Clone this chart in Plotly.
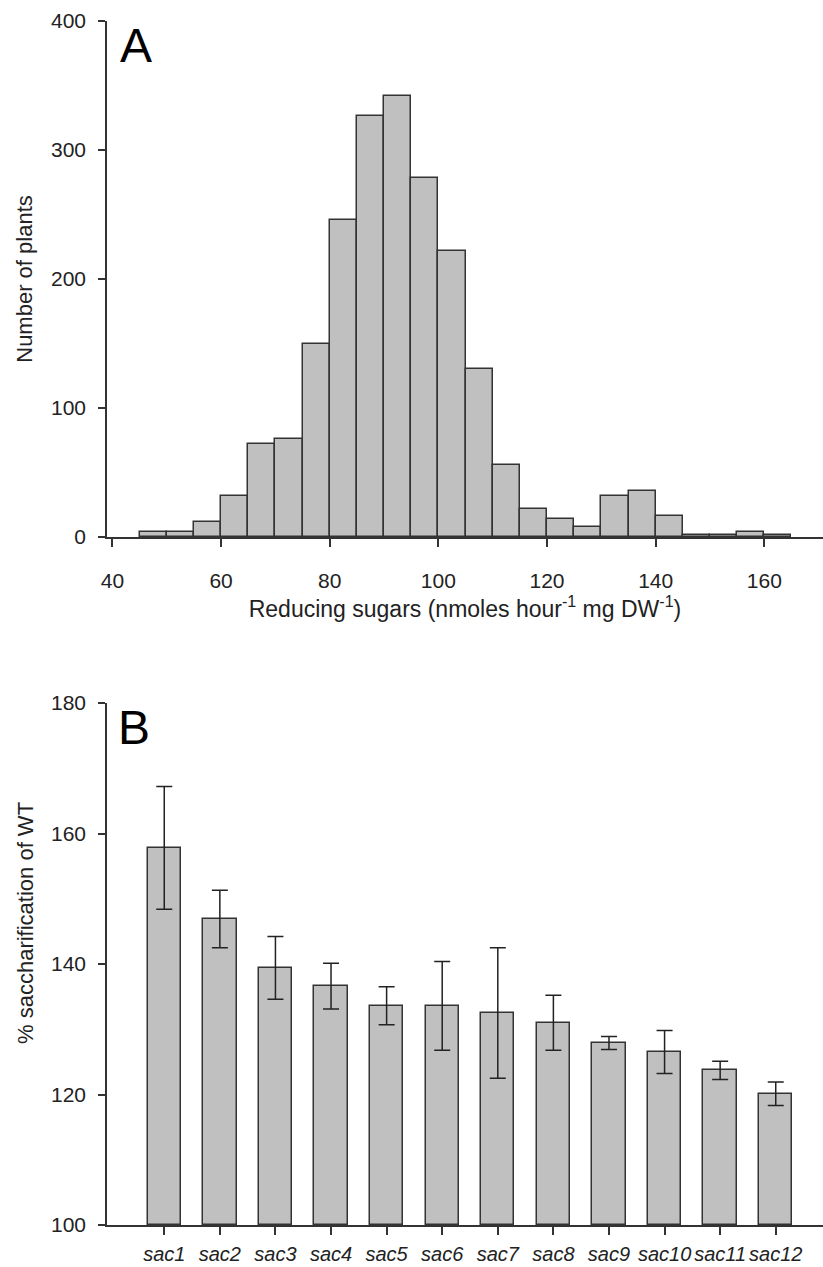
import plotly.graph_objects as go

# ---- Panel A data: histogram of reducing sugars ----
bin_starts = [45, 50, 55, 60, 65, 70, 75, 80, 85, 90, 95, 100, 105, 110,
              115, 120, 125, 130, 135, 140, 145, 150, 155, 160]
bin_width = 5
counts = [4, 4, 12, 32, 72, 76, 150, 246, 326, 342, 278, 222, 130, 56,
          22, 14, 8, 32, 36, 16, 1.5, 1.5, 4, 1.5]
a_xticks = [40, 60, 80, 100, 120, 140, 160]
a_yticks = [0, 100, 200, 300, 400]

# ---- Panel B data: % saccharification of WT ----
lines = ["sac1", "sac2", "sac3", "sac4", "sac5", "sac6",
         "sac7", "sac8", "sac9", "sac10", "sac11", "sac12"]
sacch = [157.8, 146.9, 139.4, 136.6, 133.6, 133.6,
         132.5, 131.0, 127.9, 126.5, 123.7, 120.1]
sacch_err = [9.4, 4.4, 4.8, 3.5, 2.9, 6.8,
             10.0, 4.2, 1.0, 3.3, 1.4, 1.8]
b_yticks = [100, 120, 140, 160, 180]

FONT = "Liberation Sans, Arial, sans-serif"
TXT = "#222222"
LINE = "#333333"
FILL = "#c0c0c0"

W, H = 823, 1267
ML, MR, MT, MB = 107, 0, 21, 42
PH = H - MT - MB


def py2paper(py):
    return (H - MB - py) / PH


def px2paper(px):
    return (px - ML) / (W - ML - MR)


fig = go.Figure()

centers = [s + bin_width / 2 for s in bin_starts]
fig.add_trace(go.Bar(
    x=centers, y=counts, width=bin_width,
    marker=dict(color=FILL, line=dict(color=LINE, width=1.5)),
    xaxis="x", yaxis="y", showlegend=False,
))

fig.add_trace(go.Bar(
    x=lines, y=[v - 100 for v in sacch], base=100, width=0.6,
    marker=dict(color=FILL, line=dict(color=LINE, width=1.5)),
    error_y=dict(type="data", array=sacch_err, visible=True,
                 color="#222222", thickness=1.5, width=8),
    xaxis="x2", yaxis="y2", showlegend=False,
))

axis_common = dict(
    showgrid=False, zeroline=False, showline=True, linecolor=LINE,
    linewidth=1.5, ticks="outside", tickcolor=LINE, tickwidth=1.5,
    automargin=False,
    tickfont=dict(family=FONT, size=21, color=TXT),
)

fig.update_layout(
    width=W, height=H,
    margin=dict(l=ML, r=MR, t=MT, b=MB, autoexpand=False),
    paper_bgcolor="white", plot_bgcolor="white",
    bargap=0,
    xaxis=dict(
        **axis_common, domain=[0, 1], anchor="y",
        range=[39.0, 170.8], tickvals=a_xticks, ticklen=8,
        ticklabelstandoff=16,
        title=dict(text="Reducing sugars (nmoles hour<sup>-1</sup> mg DW<sup>-1</sup>)",
                   font=dict(family=FONT, size=23, color=TXT), standoff=8),
    ),
    yaxis=dict(
        **axis_common, domain=[py2paper(537), 1], anchor="x",
        range=[0, 400], tickvals=a_yticks, ticklen=7,
        ticklabelstandoff=8,
        title=dict(text="Number of plants",
                   font=dict(family=FONT, size=22, color=TXT), standoff=12),
    ),
    xaxis2=dict(
        **axis_common, domain=[0, 1], anchor="y2",
        range=[-1.03, 11.85], ticklen=8, ticklabelstandoff=2,
        tickangle=0,
    ),
    yaxis2=dict(
        **axis_common, domain=[0, py2paper(703)], anchor="x2",
        range=[100, 180], tickvals=b_yticks, ticklen=7,
        ticklabelstandoff=8,
    ),
)
fig.update_layout(xaxis2_tickfont=dict(family=FONT, size=20, color=TXT,
                                       style="italic"))

fig.add_annotation(text="A", xref="paper", yref="paper",
                   x=px2paper(118), y=py2paper(45), xanchor="left",
                   yanchor="middle", showarrow=False,
                   font=dict(family=FONT, size=48, color="#000"))
fig.add_annotation(text="B", xref="paper", yref="paper",
                   x=px2paper(116), y=py2paper(728), xanchor="left",
                   yanchor="middle", showarrow=False,
                   font=dict(family=FONT, size=48, color="#000"))
fig.add_annotation(text="% saccharification of WT", xref="paper",
                   yref="paper", x=px2paper(25), y=py2paper(923),
                   xanchor="center", yanchor="middle", textangle=-90,
                   showarrow=False,
                   font=dict(family=FONT, size=22, color=TXT))

fig.write_html(
    "out.html",
    config={"displayModeBar": False},
    post_script="document.body.style.margin='0';document.body.style.overflow='hidden';",
)
